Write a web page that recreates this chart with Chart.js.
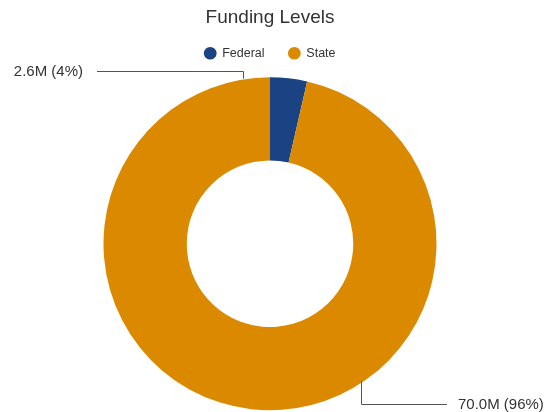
<!DOCTYPE html>
<html>
<head>
<meta charset="utf-8">
<script src="https://cdn.jsdelivr.net/npm/chart.js@4/dist/chart.umd.min.js"></script>
<style>
  html, body { margin: 0; padding: 0; background: #fff; }
  #wrap { width: 550px; height: 412px; }
</style>
</head>
<body>
<div id="wrap"><canvas id="funding"></canvas></div>
<script>
"use strict";
// ========== DATA ========== //
const categories = ["Federal", "State"];
const amounts = [2.6, 70.0]; // millions
const sliceColors = ["#1b4384", "#db8a00"];

const FONT = "Helvetica, Arial, 'Liberation Sans', sans-serif";

// a little extra room between the legend and the ring
const gapPlugin = {
  id: "legendGap",
  afterLayout(chart) {
    chart.chartArea.top += 6;
    chart.chartArea.height -= 6;
  }
};

// leader lines + value labels, drawn after the doughnut
const leaderPlugin = {
  id: "leaders",
  afterDatasetsDraw(chart) {
    const ctx = chart.ctx;
    const arc = chart.getDatasetMeta(0).data[0];
    const cx = arc.x, cy = arc.y, r = arc.outerRadius;
    const total = amounts.reduce((a, b) => a + b, 0);
    const label = (i) => amounts[i].toFixed(1) + "M (" + Math.round(amounts[i] / total * 100) + "%)";
    ctx.save();
    ctx.strokeStyle = "#555";
    ctx.lineWidth = 1;
    ctx.fillStyle = "#333";
    ctx.font = "15px " + FONT;
    ctx.textBaseline = "middle";

    // Federal: out to the left above the ring
    let px = Math.round(cx - 27) + 0.5;
    let py = cy - r + 1.5;
    let ly = Math.round(cy - r - 6) + 0.5;
    ctx.beginPath();
    ctx.moveTo(px, py);
    ctx.lineTo(px, ly);
    ctx.lineTo(cx - 173, ly);
    ctx.stroke();
    ctx.textAlign = "right";
    ctx.fillText(label(0), cx - 187, ly);

    // State: out to the right below the ring
    px = Math.round(cx + 91) + 0.5;
    py = cy + Math.sqrt(r * r - 91 * 91) - 2;
    ly = Math.round(cy + 160) + 0.5;
    ctx.beginPath();
    ctx.moveTo(px, py);
    ctx.lineTo(px, ly);
    ctx.lineTo(cx + 177, ly);
    ctx.stroke();
    ctx.textAlign = "left";
    ctx.fillText(label(1), cx + 188, ly);
    ctx.restore();
  }
};

let chart = document.querySelector("#funding");
let fundingChart = new Chart(chart, {
  type: "doughnut",
  data: {
    labels: categories,
    datasets: [{
      data: amounts,
      backgroundColor: sliceColors,
      borderWidth: 0,
      radius: 166.5
    }]
  },
  options: {
    responsive: true,
    maintainAspectRatio: false,
    animation: false,
    cutout: "50%",
    layout: { padding: { left: 0, right: 10, top: 0, bottom: 0 } },
    plugins: {
      title: {
        display: true,
        text: "Funding Levels",
        color: "#333",
        font: { size: 19, weight: "normal", family: FONT, lineHeight: 1 },
        padding: { top: 8.5, bottom: -4.5 }
      },
      legend: {
        position: "top",
        labels: {
          usePointStyle: true,
          pointStyle: "circle",
          boxWidth: 11.5,
          boxHeight: 9,
          padding: 24,
          color: "#333",
          font: { size: 12.5, family: FONT }
        }
      },
      tooltip: { enabled: false }
    }
  },
  plugins: [gapPlugin, leaderPlugin]
});
</script>
</body>
</html>
